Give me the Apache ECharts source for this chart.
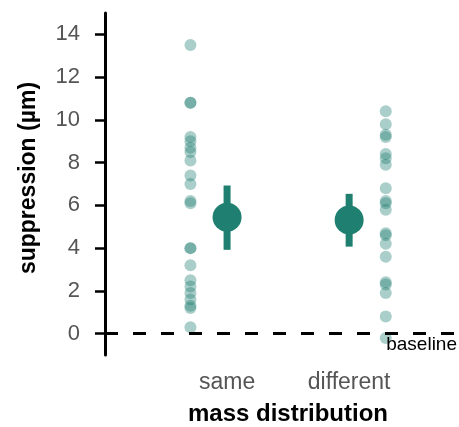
<!DOCTYPE html>
<html>
<head>
<meta charset="utf-8">
<script src="https://cdn.jsdelivr.net/npm/echarts@6/dist/echarts.min.js"></script>
<style>
  html, body { margin: 0; padding: 0; background: #fff; }
  #chart { width: 459px; height: 427px; }
</style>
</head>
<body>
<div id="chart"></div>
<script>
  // data
  var categories = ['same', 'different'];
  var sameValues = [13.5, 10.8, 10.8, 9.2, 9.0, 8.7, 8.5, 8.1, 7.4, 7.0, 6.2, 6.1,
    4.0, 4.0, 3.2, 2.5, 2.2, 1.9, 1.6, 1.3, 1.2, 0.3];
  var differentValues = [10.4, 9.8, 9.3, 9.2, 8.4, 8.2, 7.9, 6.8, 6.2, 6.1, 5.8,
    4.7, 4.6, 4.2, 3.6, 2.4, 2.3, 1.9, 0.8, -0.2];
  var means = [5.44, 5.32];
  var lower = [3.92, 4.07];
  var upper = [6.93, 6.54];
  var yTicks = [0, 2, 4, 6, 8, 10, 12, 14];

  var teal = '#1f7f70';
  var chart = echarts.init(document.getElementById('chart'));

  // raw dots sit beside the category position
  var dotOffset = [-0.3, 0.3];
  var dots = [];
  [sameValues, differentValues].forEach(function (vals, i) {
    vals.forEach(function (v) {
      dots.push([i + 1 + dotOffset[i], v]);
    });
  });

  var option = {
    animation: false,
    grid: { left: 105, right: 0, top: 13, bottom: 72, outerBoundsMode: 'none' },
    xAxis: {
      type: 'value',
      min: 0,
      max: 2.9,
      splitLine: { show: false },
      axisLine: { show: false },
      axisTick: { show: false },
      axisLabel: {
        customValues: [1, 2],
        formatter: function (v) { return categories[Math.round(v) - 1]; },
        color: '#555',
        fontSize: 23,
        margin: 16,
        fontFamily: 'Liberation Sans'
      },
      name: 'mass distribution',
      nameLocation: 'middle',
      nameGap: 47,
      nameTextStyle: {
        color: '#000',
        fontSize: 24,
        fontWeight: 'bold',
        fontFamily: 'Liberation Sans',
        padding: [0, 0, 0, 12]
      }
    },
    yAxis: {
      type: 'value',
      min: -1,
      max: 15,
      splitLine: { show: false },
      axisLine: { show: true, lineStyle: { color: '#000', width: 3 } },
      axisTick: {
        show: true,
        customValues: yTicks,
        length: 10,
        lineStyle: { color: '#000', width: 2.5 }
      },
      axisLabel: {
        customValues: yTicks,
        color: '#555',
        fontSize: 22,
        margin: 25,
        fontFamily: 'Liberation Sans'
      },
      name: 'suppression (µm)',
      nameLocation: 'middle',
      nameGap: 65,
      nameTextStyle: {
        color: '#000',
        fontSize: 23,
        fontWeight: 'bold',
        fontFamily: 'Liberation Sans',
        padding: [0, 0, 0, 12]
      }
    },
    series: [
      {
        type: 'scatter',
        data: dots,
        symbolSize: 12,
        itemStyle: { color: teal, opacity: 0.38 },
        markLine: {
          silent: true,
          symbol: 'none',
          data: [{ yAxis: 0 }],
          lineStyle: { color: '#000', width: 3, type: [13, 15] },
          label: {
            show: true,
            position: 'insideEndBottom',
            formatter: 'baseline',
            color: '#000',
            fontSize: 19,
            distance: [2, 2],
            fontFamily: 'Liberation Sans'
          }
        }
      },
      {
        type: 'custom',
        renderItem: function (params, api) {
          var top = api.coord([api.value(0), api.value(2)]);
          var bottom = api.coord([api.value(0), api.value(1)]);
          return {
            type: 'line',
            shape: { x1: top[0], y1: top[1], x2: bottom[0], y2: bottom[1] },
            style: { stroke: teal, lineWidth: 7 }
          };
        },
        encode: { x: 0, y: [1, 2] },
        data: means.map(function (m, i) { return [i + 1, lower[i], upper[i]]; }),
        z: 3
      },
      {
        type: 'scatter',
        data: means.map(function (m, i) { return [i + 1, m]; }),
        symbolSize: 29,
        itemStyle: { color: teal, opacity: 1 },
        z: 4
      }
    ]
  };
  chart.setOption(option);
</script>
</body>
</html>
